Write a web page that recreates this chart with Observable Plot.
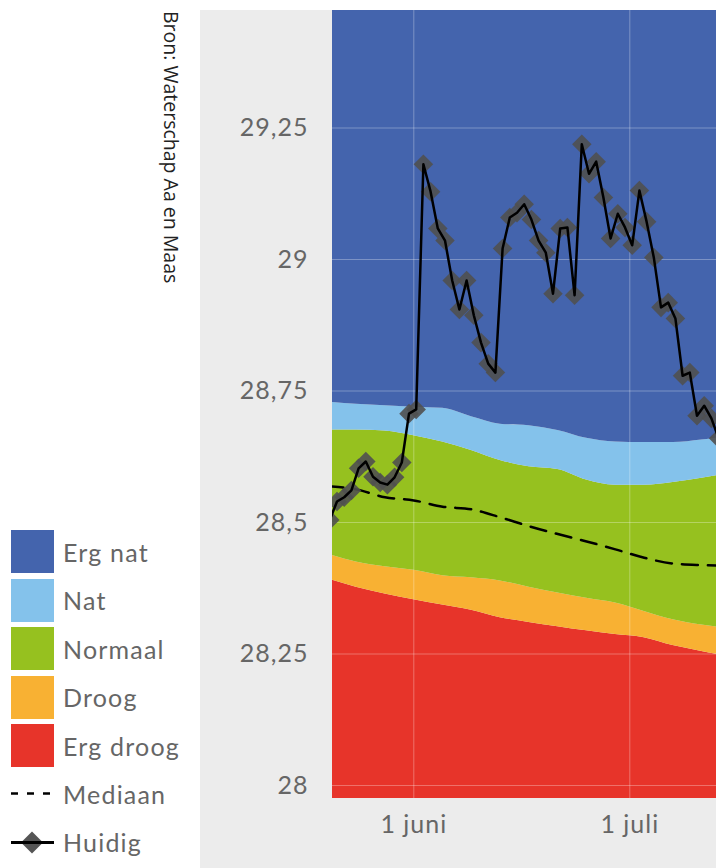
<!DOCTYPE html>
<html><head><meta charset="utf-8">
<script src="https://cdn.jsdelivr.net/npm/d3@7"></script>
<script src="https://cdn.jsdelivr.net/npm/@observablehq/plot@0.6"></script>
<style>
html,body{margin:0;padding:0;}
body{width:716px;height:868px;position:relative;background:#fff;overflow:hidden;font-family:Lato,sans-serif;}
#chart{position:absolute;left:200px;top:10px;}
#src{position:absolute;left:161px;top:11px;writing-mode:vertical-rl;font-family:"Open Sans",sans-serif;font-size:19.5px;color:#222;white-space:nowrap;line-height:1;}
.row{position:absolute;left:11px;height:43px;display:flex;align-items:center;font-size:25px;letter-spacing:1.2px;color:#666;}
.row .sym{width:43px;height:43px;flex:none;margin-right:9px;}
.row svg{display:block;}
</style></head>
<body>
<div id="src">Bron: Waterschap Aa en Maas</div>
<div id="chart"></div>
<div id="legend"></div>
<script>
// ---- data ----
const categories = ["Erg nat", "Nat", "Normaal", "Droog", "Erg droog"];
const categoryColors = ["#4464ad", "#84c2eb", "#96c11f", "#f8b133", "#e7342a"];
const lineLabels = ["Mediaan", "Huidig"];

const bandDates = ["2023-05-20","2023-05-24","2023-05-28","2023-06-01","2023-06-05","2023-06-09","2023-06-13","2023-06-17","2023-06-21","2023-06-25","2023-06-29","2023-07-03","2023-07-07","2023-07-11","2023-07-14"];
const ergDroogTop = [28.393, 28.377, 28.364, 28.353, 28.343, 28.333, 28.319, 28.310, 28.302, 28.294, 28.287, 28.281, 28.266, 28.255, 28.247];
const droogTop    = [28.440, 28.425, 28.416, 28.409, 28.399, 28.395, 28.389, 28.377, 28.366, 28.356, 28.347, 28.331, 28.315, 28.305, 28.300];
const normaalTop  = [28.676, 28.676, 28.674, 28.665, 28.653, 28.637, 28.618, 28.606, 28.601, 28.581, 28.571, 28.571, 28.576, 28.584, 28.591];
const natTop      = [28.729, 28.725, 28.722, 28.719, 28.717, 28.701, 28.687, 28.684, 28.675, 28.660, 28.653, 28.652, 28.652, 28.657, 28.662];
const mediaan     = [28.569, 28.563, 28.548, 28.542, 28.530, 28.525, 28.510, 28.493, 28.478, 28.464, 28.449, 28.433, 28.422, 28.419, 28.418];

const huidigDates = [
 "2023-05-20","2023-05-21","2023-05-22","2023-05-23","2023-05-24","2023-05-25","2023-05-26","2023-05-27","2023-05-28","2023-05-29","2023-05-30","2023-05-31",
 "2023-06-01","2023-06-02","2023-06-03","2023-06-04","2023-06-05","2023-06-06","2023-06-07","2023-06-08","2023-06-09","2023-06-10",
 "2023-06-11","2023-06-12","2023-06-13","2023-06-14","2023-06-15","2023-06-16","2023-06-17","2023-06-18","2023-06-19","2023-06-20",
 "2023-06-21","2023-06-22","2023-06-23","2023-06-24","2023-06-25","2023-06-26","2023-06-27","2023-06-28","2023-06-29","2023-06-30",
 "2023-07-01","2023-07-02","2023-07-03","2023-07-04","2023-07-05","2023-07-06","2023-07-07","2023-07-08","2023-07-09","2023-07-10",
 "2023-07-11","2023-07-12","2023-07-13"];
const huidig = [28.505, 28.540, 28.548, 28.561, 28.603, 28.616, 28.587, 28.576, 28.572, 28.586,
 28.614, 28.707, 28.715, 29.181, 29.129, 29.059, 29.036, 28.960, 28.905, 28.960,
 28.894, 28.842, 28.802, 28.785, 29.021, 29.080, 29.089, 29.105, 29.076, 29.036,
 29.013, 28.935, 29.059, 29.061, 28.932, 29.219, 29.163, 29.186, 29.118, 29.040,
 29.087, 29.061, 29.027, 29.131, 29.072, 29.004, 28.909, 28.918, 28.888, 28.779,
 28.785, 28.703, 28.722, 28.698, 28.660];

const yTicks = [28, 28.25, 28.5, 28.75, 29, 29.25];
const xTickDates = ["2023-06-01", "2023-07-01"];
const xTickLabels = ["1 juni", "1 juli"];
const xDomain = ["2023-05-20T17:00Z", "2023-07-13T01:00Z"];
const yDomain = [27.9753, 29.4734];

// ---- tables ----
const bands = bandDates.map((d, i) => ({
  date: new Date(d + "T00:00Z"),
  ergDroog: ergDroogTop[i], droog: droogTop[i], normaal: normaalTop[i], nat: natTop[i], mediaan: mediaan[i]
}));
const current = huidigDates.map((d, i) => ({date: new Date(d + "T08:00Z"), value: huidig[i]}));
const xt = xTickDates.map(d => new Date(d + "T00:00Z"));
const yMin = yDomain[0], yMax = yDomain[1];

const area = (y1, y2, fill) => Plot.areaY(bands, {x: "date", y1, y2, fill, curve: "monotone-x", clip: true});

const chart = Plot.plot({
  width: 516, height: 858,
  marginLeft: 132, marginRight: 0, marginTop: 0, marginBottom: 70,
  style: {background: "#ececec", fontFamily: "Lato, sans-serif", fontSize: "25px", letterSpacing: "1px", color: "#666", overflow: "visible"},
  x: {type: "utc", domain: xDomain.map(d => new Date(d)), axis: null},
  y: {domain: yDomain, axis: null},
  marks: [
    area(() => yMin, "ergDroog", categoryColors[4]),
    area("ergDroog", "droog", categoryColors[3]),
    area("droog", "normaal", categoryColors[2]),
    area("normaal", "nat", categoryColors[1]),
    area("nat", () => yMax, categoryColors[0]),
    Plot.gridY(yTicks, {stroke: "white", strokeOpacity: 0.3, strokeWidth: 1}),
    Plot.gridX(xt, {stroke: "white", strokeOpacity: 0.3, strokeWidth: 1}),
    Plot.axisY(yTicks, {tickSize: 0, tickPadding: 24, fontSize: 25, color: "#666",
      tickFormat: d => String(d).replace(".", ",")}),
    Plot.axisX(xt, {tickSize: 0, tickPadding: 17, fontSize: 25, color: "#666",
      tickFormat: (d) => xTickLabels[xt.findIndex(t => +t === +d)]}),
    Plot.line(bands, {x: "date", y: "mediaan", stroke: "black", strokeWidth: 2.5, strokeDasharray: "16,10", curve: "monotone-x", clip: true}),
    Plot.dot(current, {x: "date", y: "value", symbol: "diamond2", r: 8.8, fill: "#505050", fillOpacity: 0.9, stroke: "none", clip: true}),
    Plot.line(current, {x: "date", y: "value", stroke: "black", strokeWidth: 2.5, clip: true})
  ]
});
document.getElementById("chart").append(chart);

// ---- legend ----
const legend = document.getElementById("legend");
const rowTop = i => 530 + i * 48.5;
categories.forEach((c, i) => {
  const row = document.createElement("div");
  row.className = "row";
  row.style.top = rowTop(i) + "px";
  row.innerHTML = `<div class="sym" style="background:${categoryColors[i]}"></div><span>${c}</span>`;
  legend.append(row);
});
const symMed = `<svg width="43" height="43"><line x1="0" y1="21.5" x2="43" y2="21.5" stroke="black" stroke-width="2.5" stroke-dasharray="7,9"/></svg>`;
const symCur = `<svg width="43" height="43"><path d="M10,21.5 L21,10.5 L32,21.5 L21,32.5 Z" fill="#555"/><line x1="0" y1="21.5" x2="43" y2="21.5" stroke="black" stroke-width="3"/></svg>`;
[symMed, symCur].forEach((s, j) => {
  const row = document.createElement("div");
  row.className = "row";
  row.style.top = (rowTop(5 + j) - 0.5) + "px";
  row.innerHTML = `<div class="sym">${s}</div><span>${lineLabels[j]}</span>`;
  legend.append(row);
});
</script>
</body></html>
